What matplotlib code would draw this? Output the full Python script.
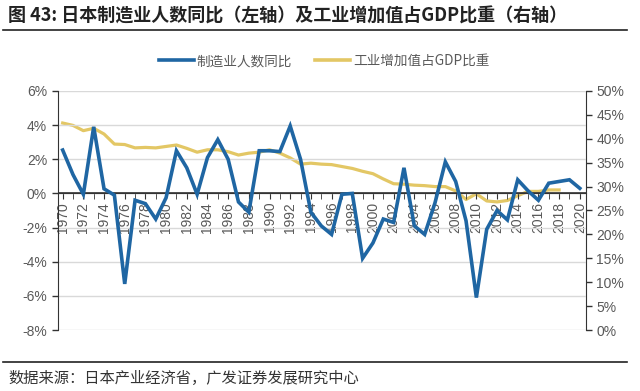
import matplotlib
matplotlib.use("Agg")
import matplotlib.pyplot as plt
from matplotlib.lines import Line2D
from matplotlib.ticker import FuncFormatter

plt.rcParams['font.family'] = ['Noto Sans CJK SC', 'DejaVu Sans']

years = list(range(1970, 2021))
emp_yoy = [2.54, 1.1, -0.05, 3.9, 0.27, -0.1, -5.3, -0.4, -0.6, -1.5,
           -0.25, 2.5, 1.5, -0.05, 2.1, 3.15, 2.0, -0.5, -1.1, 2.5,
           2.5, 2.45, 3.95, 2.0, -1.1, -1.9, -2.4, -0.05, 0.0, -3.8,
           -2.9, -1.5, -1.7, 1.5, -1.9, -2.4, -0.55, 1.85, 0.7, -1.6,
           -6.1, -2.1, -1.0, -1.55, 0.8, 0.15, -0.4, 0.6, 0.7, 0.8, 0.3]
gdp_years = list(range(1970, 2019))
ind_share = [43.3, 42.8, 41.7, 42.2, 41.0, 38.9, 38.8, 38.1, 38.2, 38.1,
             38.4, 38.7, 38.0, 37.2, 37.7, 37.7, 37.3, 36.6, 37.0, 37.2,
             37.7, 37.0, 36.0, 34.7, 34.9, 34.7, 34.6, 34.2, 33.8, 33.2,
             32.7, 31.6, 30.6, 30.5, 30.3, 30.2, 30.0, 30.0, 29.1, 27.3,
             28.5, 27.0, 26.8, 27.1, 28.1, 29.0, 29.0, 29.3, 29.3]
left_ticks = [-8, -6, -4, -2, 0, 2, 4, 6]
right_ticks = [0, 5, 10, 15, 20, 25, 30, 35, 40, 45, 50]
xtick_years = list(range(1970, 2021, 2))

blue = '#1F66A3'
yellow = '#E3C765'
grey = '#595959'
tickfont = ['Liberation Sans', 'DejaVu Sans']

fig = plt.figure(figsize=(6.4, 3.91), dpi=100)
ax = fig.add_axes([57.5/640, 1 - 330/391, (586 - 57.5)/640, (330 - 91)/391])
ax2 = ax.twinx()

ax.plot(years, emp_yoy, color=blue, lw=2.6, zorder=3, solid_joinstyle='miter')
ax2.plot(gdp_years, ind_share, color=yellow, lw=2.3, zorder=2)
ax.set_zorder(ax2.get_zorder() + 1)
ax.patch.set_visible(False)

ax.set_xlim(1969.5, 2020.6)
ax.set_ylim(-8, 6)
ax2.set_ylim(0, 50)
ax.set_yticks(left_ticks)
ax2.set_yticks(right_ticks)
ax.yaxis.set_major_formatter(FuncFormatter(lambda v, p: f'{v:.0f}%'))
ax2.yaxis.set_major_formatter(FuncFormatter(lambda v, p: f'{v:.0f}%'))
for a in (ax, ax2):
    a.tick_params(axis='y', labelsize=10, colors='#333333', labelcolor=grey,
                  length=4, width=1)
    for lab in a.get_yticklabels():
        lab.set_family(tickfont)
    a.spines['top'].set_visible(False)
    a.spines['bottom'].set_visible(False)
ax.spines['left'].set_color('#333333')
ax.spines['right'].set_visible(False)
ax2.spines['left'].set_visible(False)
ax2.spines['right'].set_color('#333333')
ax.grid(axis='y', color='#D9D9D9', lw=1)
ax.set_axisbelow(True)

# x axis at zero
ax.axhline(0, color='#333333', lw=1.2, zorder=2)
ax.spines['bottom'].set_visible(True)
ax.spines['bottom'].set_position(('data', 0))
ax.spines['bottom'].set_color('#333333')
ax.set_xticks(years, minor=True)
ax.set_xticks(xtick_years)
ax.set_xticklabels([str(y) for y in xtick_years], rotation=90, family=tickfont,
                   fontsize=10, color=grey)
ax.tick_params(axis='x', which='both', direction='out', length=4, colors='#333333',
               labelcolor=grey, pad=2)

# title, rules, legend, source
fig.text(8/640, 1 - 16/391, '图 43: 日本制造业人数同比（左轴）及工业增加值占GDP比重（右轴）',
         fontsize=13, fontweight='bold', va='center', ha='left', color='#222222')
fig.add_artist(Line2D([3/640, 627/640], [1 - 30/391, 1 - 30/391], color='#222222', lw=1.2))
fig.add_artist(Line2D([3/640, 627/640], [1 - 362/391, 1 - 362/391], color='#222222', lw=1.2))
fig.text(8/640, 1 - 378/391, '数据来源：日本产业经济省，广发证券发展研究中心',
         fontsize=11, va='center', ha='left', color='#333333')

handles = [Line2D([], [], color=blue, lw=2.6), Line2D([], [], color=yellow, lw=2.6)]
fig.legend(handles, ['制造业人数同比', '工业增加值占GDP比重'], loc='center',
           bbox_to_anchor=(324/640, 1 - 61/391), ncol=2, frameon=False,
           fontsize=9.8, handlelength=2.57, columnspacing=1.7, handletextpad=0.2,
           labelcolor=grey, borderpad=0)

fig.savefig('out.png', dpi=100)
